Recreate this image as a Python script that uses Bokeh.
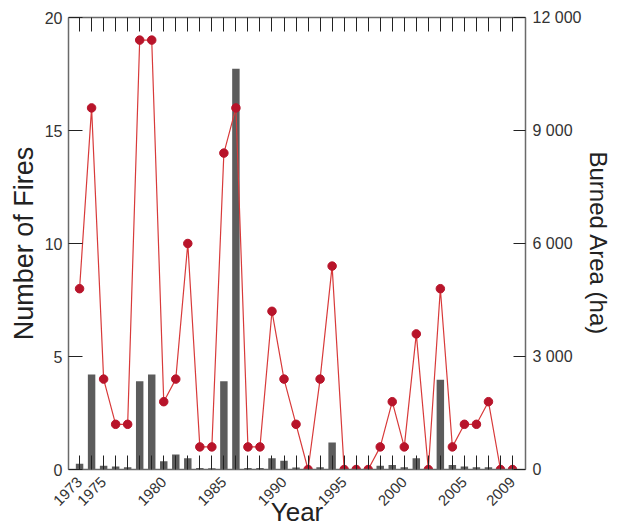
import math
from bokeh.plotting import figure
from bokeh.models import Range1d, LinearAxis, FixedTicker, ColumnDataSource
from bokeh.embed import file_html
from bokeh.resources import INLINE

years = list(range(1973, 2010))
fires = [8, 16, 4, 2, 2, 19, 19, 3, 4, 10, 1, 1, 14, 16, 1, 1, 7, 4, 2, 0,
         4, 9, 0, 0, 0, 1, 3, 1, 6, 0, 8, 1, 2, 2, 3, 0, 0]
burned_area = [150, 2520, 100, 80, 60, 2340, 2520, 220, 400, 300, 40, 30, 2340, 10640,
               40, 40, 300, 230, 50, 20, 60, 720, 20, 30, 40, 100, 120, 60, 300, 30,
               2380, 120, 80, 60, 60, 30, 30]
label_years = [1973, 1975, 1980, 1985, 1990, 1995, 2000, 2005, 2009]
fire_ticks = [0, 5, 10, 15, 20]
area_ticks = [0, 3000, 6000, 9000, 12000]
area_tick_labels = ["0", "3 000", "6 000", "9 000", "12 000"]

src = ColumnDataSource(dict(year=years, fires=fires, area=burned_area))

FONT = "Liberation Sans"
AX = "#6a6a6a"
TXT = "#333333"

p = figure(width=617, height=530, output_backend="svg", toolbar_location=None,
           x_range=Range1d(1972.08, 2010.08), y_range=Range1d(0, 20),
           min_border_left=68, min_border_right=92, min_border_top=17, min_border_bottom=61,
           background_fill_color="white", border_fill_color="white")
p.outline_line_color = None
p.xgrid.grid_line_color = None
p.ygrid.grid_line_color = None
p.extra_y_ranges = {"area": Range1d(0, 12000)}

# bars: burned area
p.vbar(x="year", top="area", width=0.62, source=src, y_range_name="area",
       fill_color="#5c5c5c", line_color=None)

# line: number of fires
p.line("year", "fires", source=src, line_color="#d83a3a", line_width=1.2)
p.scatter("year", "fires", source=src, marker="circle", size=8.5,
          fill_color="#b8142a", line_color="#b8142a")

# bottom axis
xa = p.xaxis[0]
xa.ticker = FixedTicker(ticks=years)
xa.major_label_overrides = {y: (str(y) if y in label_years else "") for y in years}
xa.major_label_orientation = math.pi / 4
xa.major_label_text_font = FONT
xa.major_label_text_font_size = "15px"
xa.major_label_text_color = TXT
xa.major_label_standoff = 10
xa.major_tick_in = 14
xa.major_tick_out = 0
xa.minor_tick_line_color = None
xa.major_tick_line_color = "#222222"
xa.axis_line_color = AX
xa.axis_line_width = 1.5
xa.axis_label = "Year"
xa.axis_label_text_font = FONT
xa.axis_label_text_font_size = "26px"
xa.axis_label_text_font_style = "normal"
xa.axis_label_text_color = "#222222"
xa.axis_label_standoff = -16

# left axis
ya = p.yaxis[0]
ya.ticker = FixedTicker(ticks=fire_ticks)
ya.major_label_text_font = FONT
ya.major_label_text_font_size = "16px"
ya.major_label_text_color = TXT
ya.major_label_standoff = 6
ya.major_tick_in = 14
ya.major_tick_out = 0
ya.minor_tick_line_color = None
ya.major_tick_line_color = "#222222"
ya.axis_line_color = AX
ya.axis_line_width = 1.5
ya.axis_label = "Number of Fires"
ya.axis_label_text_font = FONT
ya.axis_label_text_font_size = "27px"
ya.axis_label_text_font_style = "normal"
ya.axis_label_text_color = "#222222"
ya.axis_label_standoff = 3

# right axis
ra = LinearAxis(y_range_name="area", ticker=FixedTicker(ticks=area_ticks))
ra.major_label_overrides = dict(zip(area_ticks, area_tick_labels))
ra.major_label_text_font = FONT
ra.major_label_text_font_size = "16px"
ra.major_label_text_color = TXT
ra.major_label_standoff = 7
ra.major_tick_in = 12
ra.major_tick_out = 0
ra.minor_tick_line_color = None
ra.major_tick_line_color = "#222222"
ra.axis_line_color = AX
ra.axis_line_width = 1.5
ra.axis_label = "Burned Area (ha)"
ra.axis_label_text_font = FONT
ra.axis_label_text_font_size = "24px"
ra.axis_label_text_font_style = "normal"
ra.axis_label_text_color = "#222222"
ra.axis_label_standoff = 1
p.add_layout(ra, "right")

# top axis: year ticks only
ta = LinearAxis(ticker=FixedTicker(ticks=years))
ta.major_label_overrides = {y: "" for y in years}
ta.major_label_text_font_size = "0px"
ta.major_label_standoff = 0
ta.major_tick_in = 14
ta.major_tick_out = 0
ta.minor_tick_line_color = None
ta.major_tick_line_color = "#222222"
ta.axis_line_color = AX
ta.axis_line_width = 1.5
p.add_layout(ta, "above")

open("out.html", "w").write(file_html(p, INLINE))
